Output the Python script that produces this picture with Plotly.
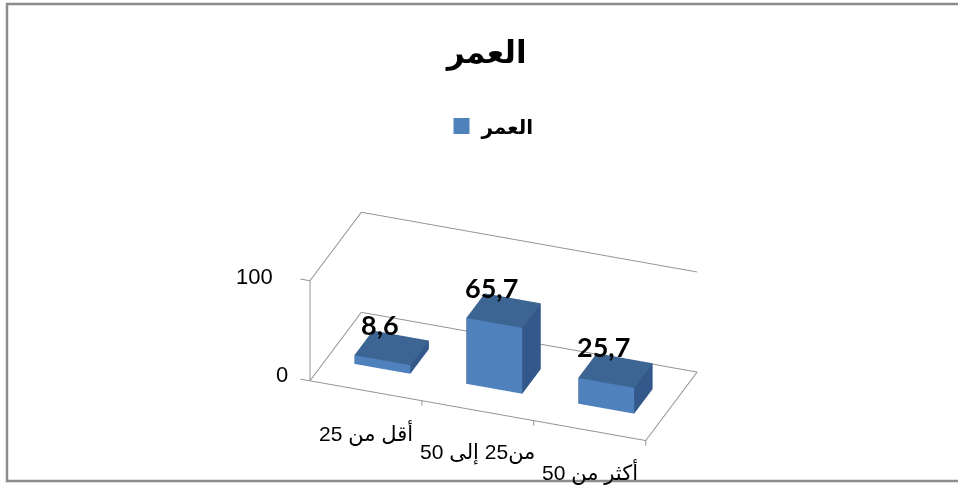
import plotly.graph_objects as go

# ---- data ----
categories = ["أقل من 25", "من25 إلى 50", "أكثر من 50"]
values = [8.6, 65.7, 25.7]
series_name = "العمر"
chart_title = "العمر"
z_ticks = [0, 100]

# ---- styles ----
FRONT = "#4F81BD"
TOP = "#3D6594"
SIDE = "#34588A"
GRID = "#959595"
ARFONT = "Liberation Sans, DejaVu Sans, Arial, sans-serif"
NUMFONT = "Lato, Liberation Sans, sans-serif"

W, H = 958, 485
n = len(categories)
X0, X1 = 0, n
Y0, Y1 = 0, 1
Z0, Z1 = z_ticks[0], z_ticks[-1]
BAR_W = 0.5
BAR_D = 0.36

# scene ranges with a little room (tick marks, no clipping at box edges)
XR = [X0 - 0.1, X1 + 0.01]
YR = [Y0 - 0.01, Y1 + 0.01]
ZR = [Z0 - 7, Z1 + 1]
# screen scale per data unit (scene units)
SX, SY, SZ = 2.34 / n * 1.05, 0.98 * 1.05, 0.75 / (Z1 - Z0) * 1.05

fig = go.Figure()

# bars as cuboids
for i, v in enumerate(values):
    xa, xb = i + 0.5 - BAR_W / 2, i + 0.5 + BAR_W / 2
    ya, yb = 0.5 - BAR_D / 2, 0.5 + BAR_D / 2
    xs = [xa, xb, xb, xa, xa, xb, xb, xa]
    ys = [ya, ya, yb, yb, ya, ya, yb, yb]
    zs = [0, 0, 0, 0, v, v, v, v]
    tri = [
        (0, 1, 5), (0, 5, 4),   # front
        (3, 2, 6), (3, 6, 7),   # back
        (0, 3, 7), (0, 7, 4),   # left
        (1, 2, 6), (1, 6, 5),   # right
        (4, 5, 6), (4, 6, 7),   # top
        (0, 1, 2), (0, 2, 3),   # bottom
    ]
    fc = [FRONT, FRONT, SIDE, SIDE, SIDE, SIDE, SIDE, SIDE, TOP, TOP, FRONT, FRONT]
    fig.add_trace(go.Mesh3d(
        x=xs, y=ys, z=zs,
        i=[t[0] for t in tri], j=[t[1] for t in tri], k=[t[2] for t in tri],
        facecolor=fc, flatshading=True,
        lighting=dict(ambient=1, diffuse=0, specular=0, roughness=1, fresnel=0),
        hoverinfo="skip", showlegend=False, showscale=False,
    ))

# frame lines (walls / floor outline) derived from axis ranges
lx, ly, lz = [], [], []
def seg(a, b):
    lx.extend([a[0], b[0], None]); ly.extend([a[1], b[1], None]); lz.extend([a[2], b[2], None])

seg((X0, Y0, Z0), (X0, Y0, Z1))
seg((X0, Y0, Z1), (X0, Y1, Z1))
seg((X0, Y0, Z0), (X0, Y1, Z0))
seg((X0, Y1, Z1), (X1, Y1, Z1))
seg((X0, Y1, Z0), (X1, Y1, Z0))
seg((X0, Y0, Z0), (X1, Y0, Z0))
seg((X1, Y0, Z0), (X1, Y1, Z0))
for t in z_ticks:
    seg((X0, Y0, t), (X0 - 0.085, Y0, t))
for c in range(1, n + 1):
    seg((c, Y0, Z0), (c, Y0, Z0 - 5))

fig.add_trace(go.Scatter3d(x=lx, y=ly, z=lz, mode="lines",
                           line=dict(color=GRID, width=2),
                           hoverinfo="skip", showlegend=False))

# legend entry
fig.add_trace(go.Scatter3d(x=[None], y=[None], z=[None], mode="markers",
                           name=series_name,
                           marker=dict(symbol="square", size=17, color=FRONT),
                           showlegend=True))

ann = []
for t in z_ticks:
    ann.append(dict(x=X0, y=Y0, z=t, text=str(t), showarrow=False,
                    xanchor="right", yanchor="middle",
                    xshift=(-35 if t else -20), yshift=(4 if t else 6),
                    font=dict(family=ARFONT, size=22, color="#000")))
for c, lab in enumerate(categories):
    ann.append(dict(x=c + 0.5, y=Y0, z=Z0, text=lab, showarrow=False,
                    xanchor="center", yanchor="middle", yshift=-42,
                    font=dict(family=ARFONT, size=21, color="#000")))
for i, v in enumerate(values):
    ann.append(dict(x=i + 0.5, y=0.5, z=v, text=f"{v:.1f}".replace(".", ","),
                    showarrow=False, xanchor="center", yanchor="bottom",
                    yshift=5, xshift=-12,
                    font=dict(family=NUMFONT, size=27, color="#000", weight="bold")))

ax_common = dict(visible=False, showgrid=False, showbackground=False,
                 zeroline=False, showspikes=False)

fig.update_layout(
    width=W, height=H,
    margin=dict(l=0, r=0, t=0, b=0),
    paper_bgcolor="white",
    title=dict(text=chart_title, x=0.508, xanchor="center",
               y=1 - 52 / H, yanchor="middle", yref="container",
               font=dict(family=ARFONT, size=31, color="#000", weight="bold")),
    legend=dict(orientation="h", x=0.512, xanchor="center",
                y=1 - 126 / H, yanchor="middle",
                font=dict(family=ARFONT, size=20, color="#000", weight="bold"),
                bgcolor="rgba(0,0,0,0)"),
    scene=dict(
        domain=dict(x=[0.2203, 0.8203], y=[0.023, 0.623]),
        xaxis=dict(range=XR, **ax_common),
        yaxis=dict(range=YR, **ax_common),
        zaxis=dict(range=ZR, **ax_common),
        aspectmode="manual",
        aspectratio=dict(x=(XR[1] - XR[0]) * SX,
                         y=(YR[1] - YR[0]) * SY,
                         z=(ZR[1] - ZR[0]) * SZ),
        camera=dict(eye=dict(x=0.76, y=-2.08, z=1.235),
                    center=dict(x=0, y=0, z=0),
                    up=dict(x=0, y=0, z=1),
                    projection=dict(type="orthographic")),
        annotations=ann,
        bgcolor="white",
    ),
    shapes=[dict(type="rect", xref="paper", yref="paper",
                 x0=7 / W, x1=1.02, y0=1 - 481 / H, y1=1 - 4 / H,
                 line=dict(color="#8C8C8C", width=2.5), layer="above")],
)

fig.write_html("out.html")
